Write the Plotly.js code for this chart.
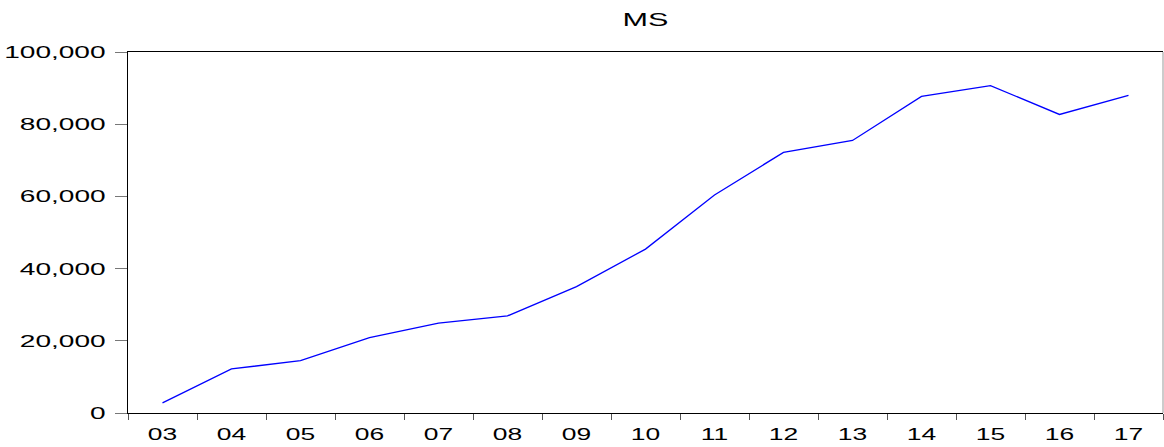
<!DOCTYPE html>
<html>
<head>
<meta charset="utf-8">
<script src="https://cdn.plot.ly/plotly-3.0.1.min.js"></script>
<style>
html,body{margin:0;padding:0;background:#fff;}
#chart{width:1164px;height:447px;}
</style>
</head>
<body>
<div id="chart"></div>
<script>
// Data
const years = ['03','04','05','06','07','08','09','10','11','12','13','14','15','16','17'];
const msValues = [2800, 12200, 14500, 20900, 24900, 26900, 35000, 45400, 60400, 72200, 75500, 87700, 90700, 82700, 88000];
const yTickVals = [0, 20000, 40000, 60000, 80000, 100000];
const chartTitle = 'MS';

const FONT = 'Arial, "Liberation Sans", sans-serif';

const trace = {
  type: 'scatter',
  mode: 'lines',
  x: years,
  y: msValues,
  line: {color: '#0000FF', width: 1.3},
  hoverinfo: 'skip'
};

const layout = {
  width: 1164,
  height: 447,
  margin: {l: 128, r: 1, t: 52, b: 34, pad: 0},
  paper_bgcolor: '#ffffff',
  plot_bgcolor: '#ffffff',
  showlegend: false,
  title: {
    text: chartTitle,
    font: {family: FONT, size: 18, color: '#000'},
    x: 0.5, xref: 'paper', xanchor: 'center',
    y: 1 - 20/447, yref: 'container', yanchor: 'middle'
  },
  xaxis: {
    type: 'category',
    categoryorder: 'array',
    categoryarray: years,
    range: [-0.5, years.length - 0.5],
    tickson: 'boundaries',
    ticks: 'outside',
    ticklen: 6,
    tickwidth: 1,
    tickcolor: '#555',
    ticklabelstandoff: 7,
    showgrid: false,
    zeroline: false,
    showline: true,
    linecolor: '#000',
    linewidth: 1,
    mirror: true,
    tickfont: {family: FONT, size: 16, color: '#000'},
    fixedrange: true
  },
  yaxis: {
    range: [0, 100000],
    tickvals: yTickVals,
    tickformat: ',d',
    ticks: 'outside',
    ticklen: 12,
    tickwidth: 1,
    tickcolor: '#777',
    ticklabelstandoff: 6,
    showgrid: false,
    zeroline: false,
    showline: true,
    linecolor: '#000',
    linewidth: 1,
    tickfont: {family: FONT, size: 17, color: '#000'},
    fixedrange: true
  },
  shapes: [{
    type: 'line', xref: 'paper', yref: 'paper',
    x0: 1, x1: 1, y0: 0, y1: 1,
    line: {color: '#999', width: 1}
  }]
};

function stretchText(sel, factor) {
  document.querySelectorAll(sel).forEach(function (t) {
    const len = t.getComputedTextLength();
    if (len > 0) {
      t.setAttribute('textLength', (len * factor).toFixed(2));
      t.setAttribute('lengthAdjust', 'spacingAndGlyphs');
    }
  });
}

Plotly.newPlot('chart', [trace], layout, {staticPlot: true, displayModeBar: false}).then(function () {
  stretchText('.xtick text', 1.65);
  stretchText('.ytick text', 1.65);
  stretchText('.gtitle', 1.7);
});
</script>
</body>
</html>
